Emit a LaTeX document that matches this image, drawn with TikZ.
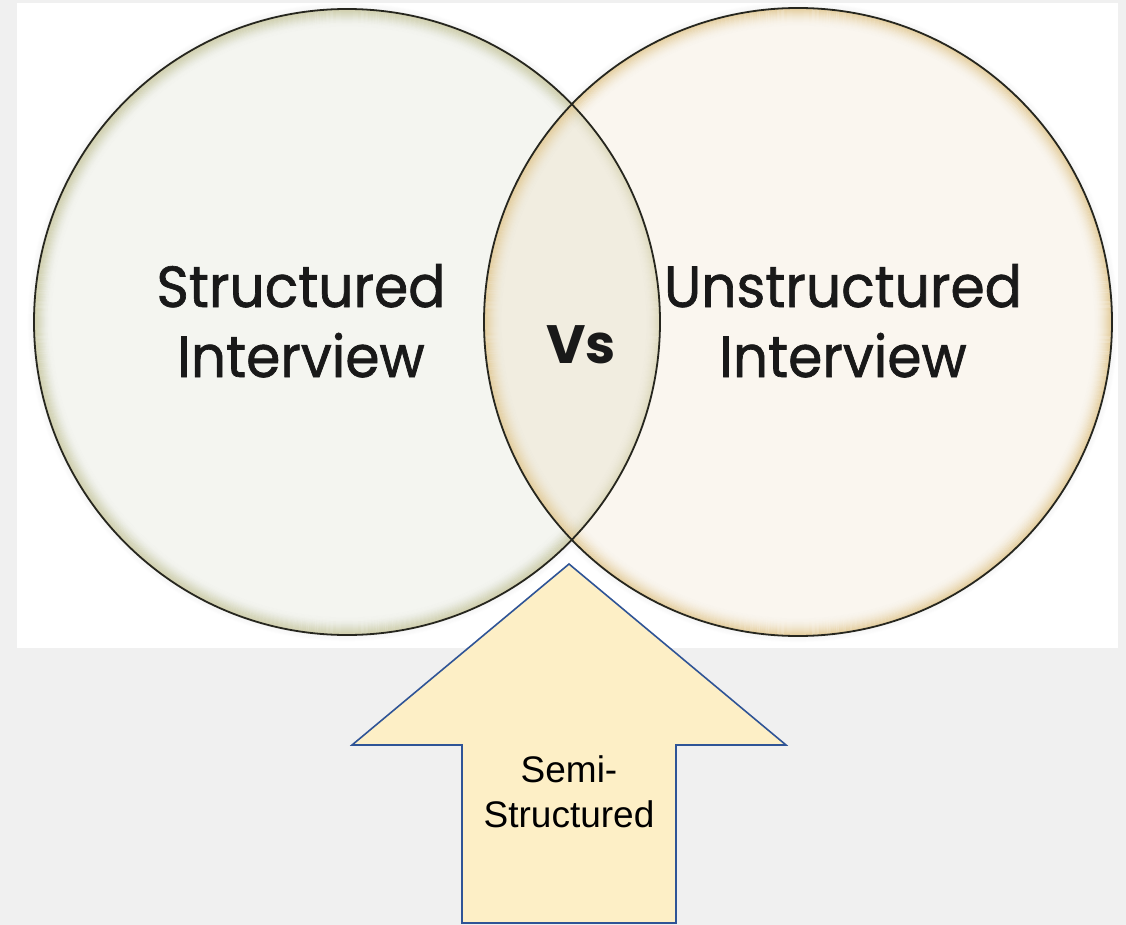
\documentclass[tikz,border=0pt]{standalone}
\usepackage{fontspec}
\setmainfont{Liberation Sans}
\newfontfamily\geofont[FakeBold=1.2]{Poppins}
\newfontfamily\geoheavy{Poppins}
\newcommand{\narrowline}[1]{\scalebox{0.95}[1]{#1}}
\begin{document}
\begin{tikzpicture}[x=1pt,y=-1pt]
  \definecolor{pagebg}{HTML}{F0F0F0}
  \definecolor{leftfill}{HTML}{F4F5F0}
  \definecolor{rightfill}{HTML}{FAF6EF}
  \definecolor{lensfill}{HTML}{F1EDE0}
  \definecolor{leftrim}{HTML}{CDD1B4}
  \definecolor{rightrim}{HTML}{E2C994}
  \definecolor{ringline}{HTML}{26261E}
  \definecolor{arrowfill}{HTML}{FDEFC6}
  \definecolor{arrowline}{HTML}{2F5496}
  \tikzset{
    venn/.style={circle, inner sep=0pt, draw=ringline, line width=1.8pt},
    circtext/.style={font=\geofont\fontsize{58}{70}\selectfont, align=center, inner sep=0pt, text=black!90},
    vstext/.style={font=\geoheavy\bfseries\fontsize{54}{60}\selectfont, inner sep=0pt, text=black!90},
    upshape/.style={fill=arrowfill, draw=arrowline, line width=1.6pt, line join=miter},
    semitext/.style={font=\fontsize{37}{45}\selectfont, align=center, inner sep=0pt}
  }
  % page and white panel
  \useasboundingbox (0,0) rectangle (1126,925);
  \fill[pagebg] (0,0) rectangle (1126,925);
  \fill[white] (17,3) rectangle (1118,648);

  \coordinate (Lc) at (347,322);
  \coordinate (Rc) at (798,322);

  % soft shadow just outside both discs
  \foreach \k in {1,...,6} {
    \pgfmathsetmacro\op{0.035*(1-\k/7)}
    \draw[black, line width=1.2pt, opacity=\op] (Lc) circle[radius=313+\k];
    \draw[black, line width=1.2pt, opacity=\op] (Rc) circle[radius=314+\k];
  }

  % left disc with its inner rim glow
  \fill[leftfill] (Lc) circle[radius=313];
  \foreach \k in {0,...,18} {
    \pgfmathsetmacro\op{0.9*(1-\k/18)^2}
    \draw[leftrim, line width=1.1pt, opacity=\op] (Lc) circle[radius=312.5-\k];
  }
  % right disc
  \fill[rightfill] (Rc) circle[radius=314];
  % overlap
  \begin{scope}
    \clip (Lc) circle[radius=313];
    \fill[lensfill] (Rc) circle[radius=314];
    \foreach \k in {0,...,14} {
      \pgfmathsetmacro\op{0.6*(1-\k/14)^2}
      \draw[leftrim!70!rightrim, line width=1.1pt, opacity=\op] (Lc) circle[radius=312.5-\k];
    }
  \end{scope}
  % right rim glow
  \foreach \k in {0,...,18} {
    \pgfmathsetmacro\op{0.9*(1-\k/18)^2}
    \draw[rightrim, line width=1.1pt, opacity=\op] (Rc) circle[radius=313.5-\k];
  }
  % outlines
  \node[venn, minimum size=626pt] (L) at (Lc) {};
  \node[venn, minimum size=628pt] (R) at (Rc) {};

  % labels (base anchor sits on the last line)
  \node[circtext, anchor=base] (st) at (301,377)
    {\narrowline{Structured}\\\narrowline{Interview}};
  \node[circtext, anchor=base] (un) at (843,377)
    {\narrowline{Unstructured}\\\narrowline{Interview}};
  \node[vstext, anchor=base] (vs) at (581,363) {Vs};

  % upward block arrow
  \coordinate (tip) at (569,564);
  \draw[upshape] (tip) -- (786,745) -- (676,745) -- (676,923)
        -- (462,923) -- (462,745) -- (352,745) -- cycle;
  \node[semitext, anchor=base] (semi) at (569,827) {Semi-\\Structured};
\end{tikzpicture}
\end{document}
